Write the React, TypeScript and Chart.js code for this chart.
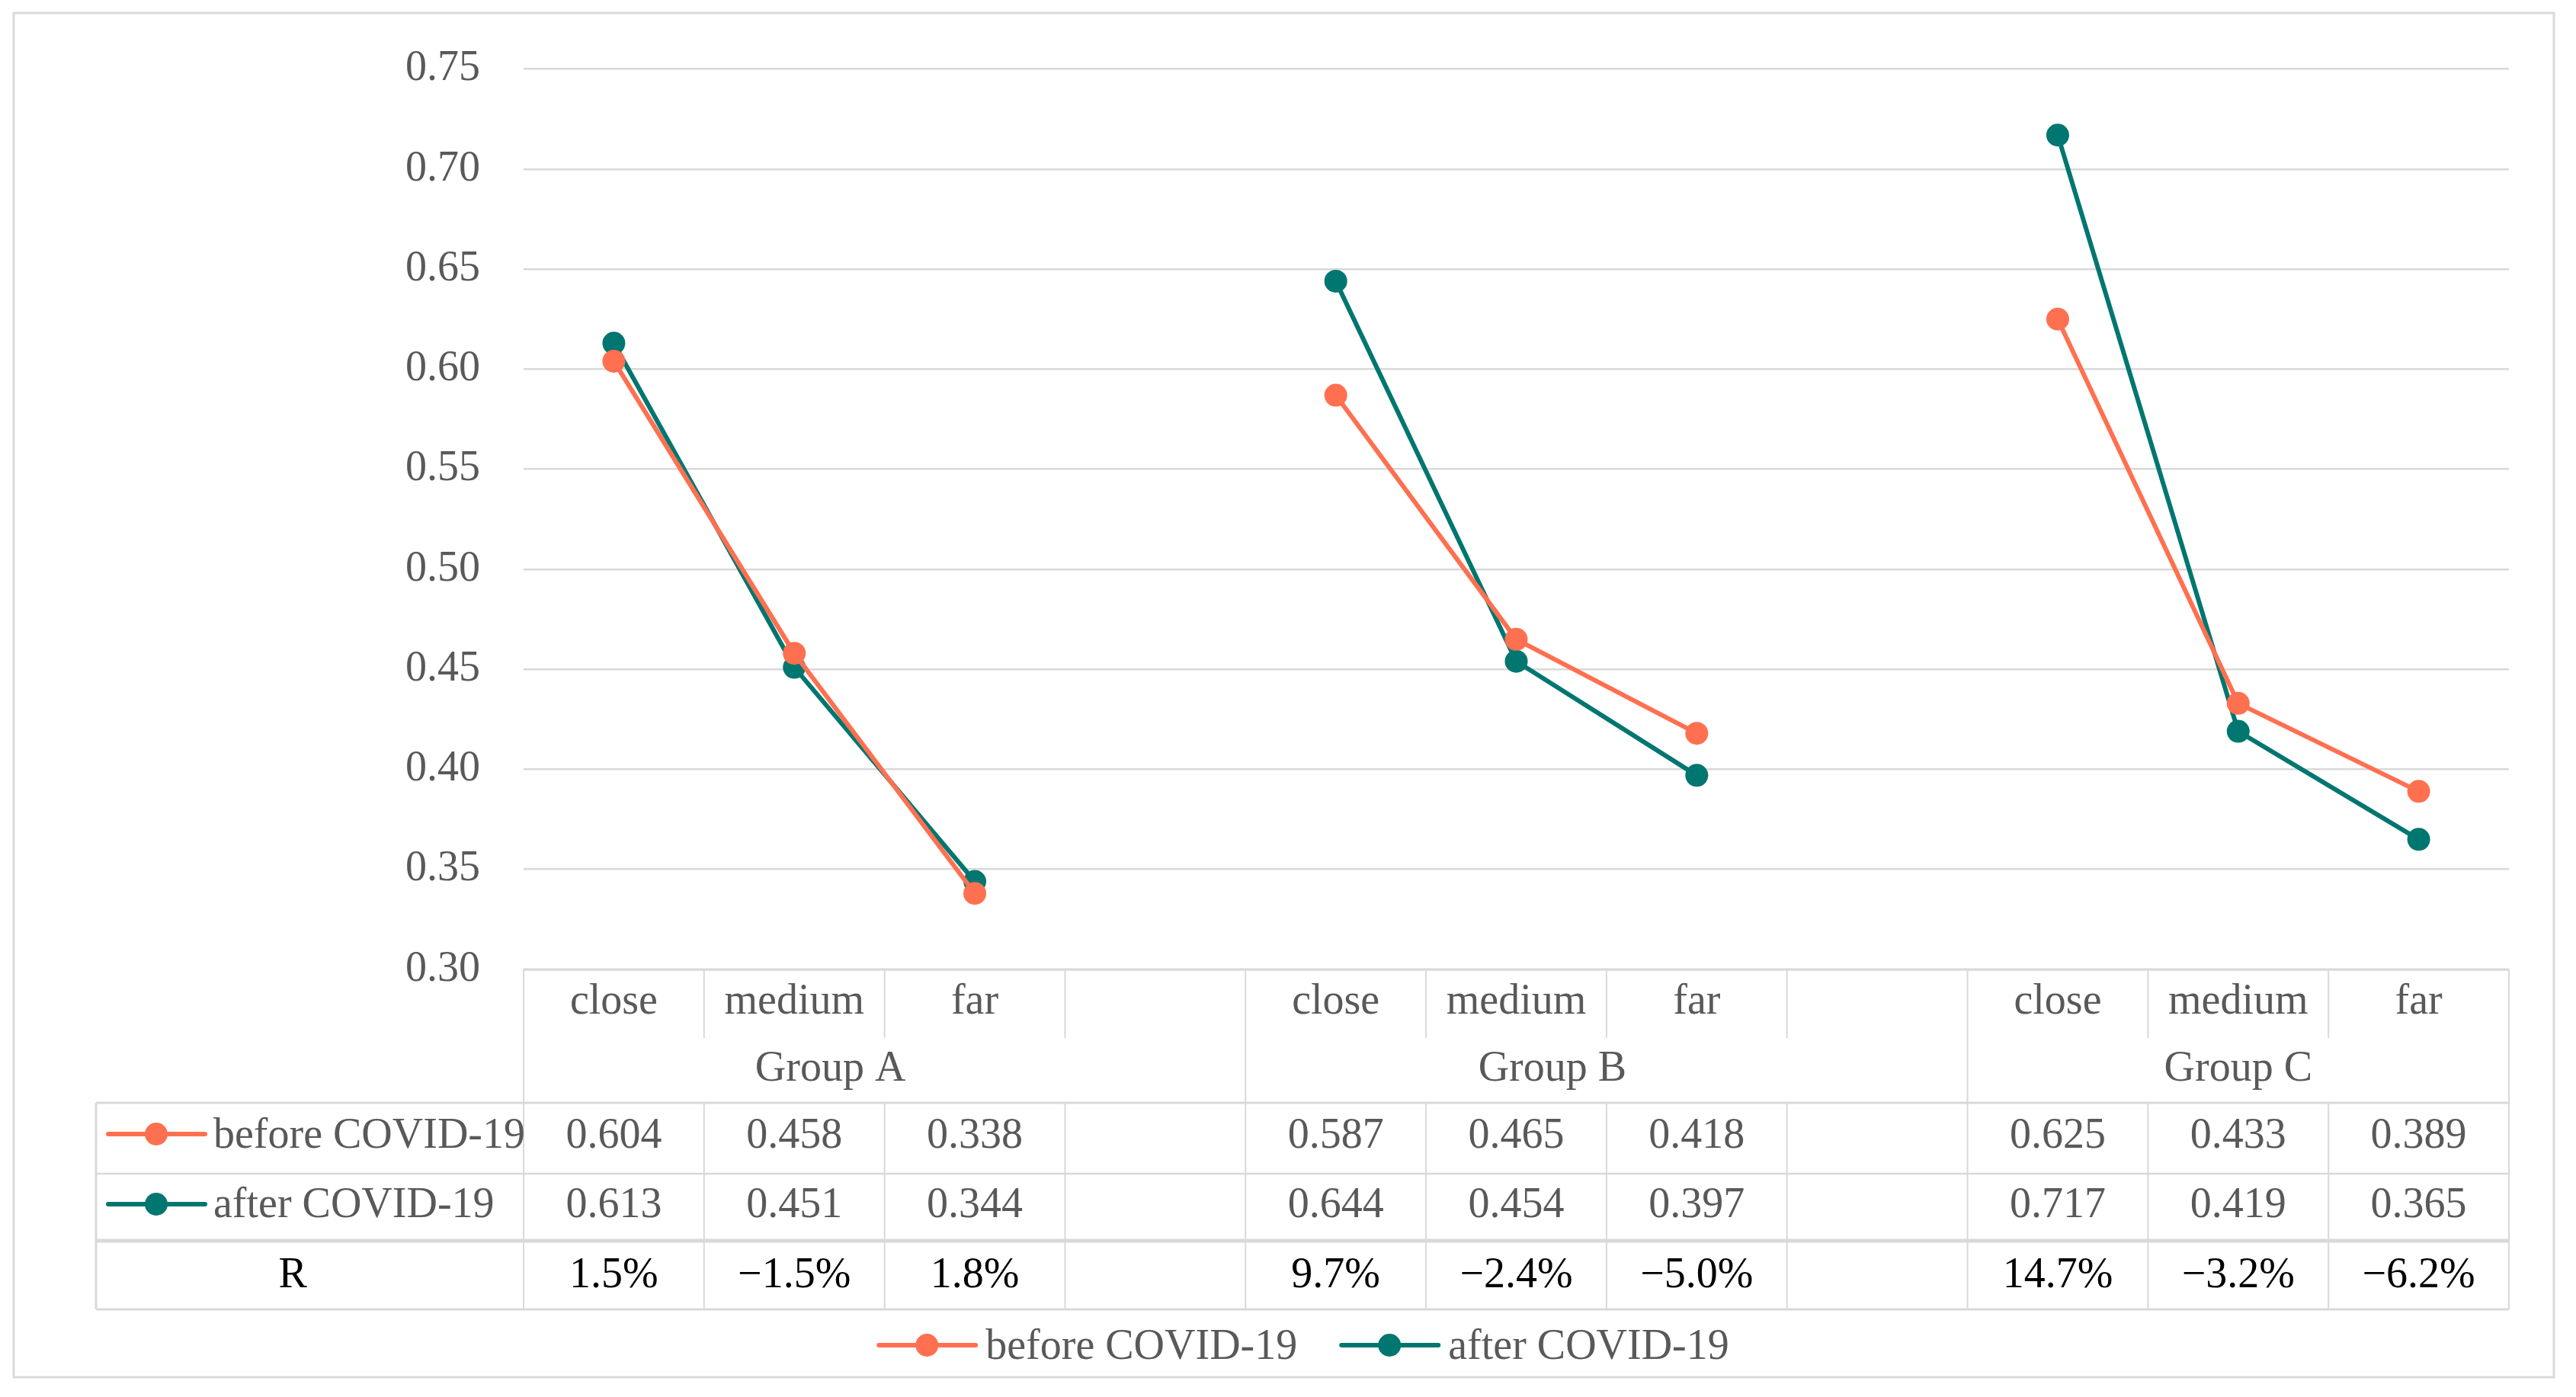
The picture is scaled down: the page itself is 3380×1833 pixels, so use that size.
import { useEffect, useRef } from "react";
import { Chart, registerables } from "chart.js";

Chart.register(...registerables);

// ---------- data ----------
const groups = ["Group A", "Group B", "Group C"];
const distances = ["close", "medium", "far"];
const beforeValues = [0.604, 0.458, 0.338, 0.587, 0.465, 0.418, 0.625, 0.433, 0.389];
const afterValues = [0.613, 0.451, 0.344, 0.644, 0.454, 0.397, 0.717, 0.419, 0.365];
const beforeLabels = ["0.604", "0.458", "0.338", "0.587", "0.465", "0.418", "0.625", "0.433", "0.389"];
const afterLabels = ["0.613", "0.451", "0.344", "0.644", "0.454", "0.397", "0.717", "0.419", "0.365"];
const rLabels = ["1.5%", "\u22121.5%", "1.8%", "9.7%", "\u22122.4%", "\u22125.0%", "14.7%", "\u22123.2%", "\u22126.2%"];
const seriesNames = ["before COVID-19", "after COVID-19"];
const rRowLabel = "R";
const yMin = 0.3;
const yMax = 0.75;
const yStep = 0.05;

// ---------- style ----------
const ORANGE = "#FF7050";
const TEAL = "#007670";
const GRID = "#D9D9D9";
const TEXT = "#595959";
const FAMILY = "'Liberation Serif', 'Times New Roman', serif";
const FS = 56;

// ---------- slot structure (groups separated by a blank slot) ----------
type Slot = { group: number; idx: number | null };
const slots: Slot[] = [];
groups.forEach((_, gi) => {
  distances.forEach((_d, di) => slots.push({ group: gi, idx: gi * distances.length + di }));
  if (gi < groups.length - 1) slots.push({ group: gi, idx: null });
});
const labels = slots.map((s) => (s.idx === null ? "" : distances[s.idx % distances.length]));
const beforeData = slots.map((s) => (s.idx === null ? null : beforeValues[s.idx]));
const afterData = slots.map((s) => (s.idx === null ? null : afterValues[s.idx]));

const tablePlugin = {
  id: "tablePlugin",
  afterDraw(chart: any) {
    const ctx: CanvasRenderingContext2D = chart.ctx;
    const xs = chart.scales.x;
    const area = chart.chartArea;
    const n = slots.length;
    const L = area.left;
    const R = area.right;
    const colW = (R - L) / n;
    const edge = (i: number) => L + i * colW;
    const headL = 126;

    const yTop = area.bottom;
    const catB = yTop + 90;
    const grpB = yTop + 175;
    const befB = yTop + 268;
    const aftB = yTop + 356;
    const rB = yTop + 446;

    ctx.save();
    const hline = (y: number, x1: number, x2: number, w: number) => {
      ctx.strokeStyle = GRID;
      ctx.lineWidth = w;
      ctx.beginPath();
      ctx.moveTo(x1, y);
      ctx.lineTo(x2, y);
      ctx.stroke();
    };
    const vline = (x: number, y1: number, y2: number, w: number) => {
      ctx.strokeStyle = GRID;
      ctx.lineWidth = w;
      ctx.beginPath();
      ctx.moveTo(x, y1);
      ctx.lineTo(x, y2);
      ctx.stroke();
    };

    // outer frame
    ctx.strokeStyle = GRID;
    ctx.lineWidth = 3;
    ctx.strokeRect(18, 17, 3333, 1790);

    // category row verticals
    for (let i = 0; i <= n; i++) vline(edge(i), yTop, catB, 2);
    // group row verticals
    const starts: number[] = [];
    slots.forEach((s, i) => {
      if (i === 0 || slots[i - 1].group !== s.group) starts.push(i);
    });
    starts.forEach((i) => vline(edge(i), catB, grpB, 2));
    vline(edge(n), catB, grpB, 2);
    // data rows verticals
    for (let i = 0; i <= n; i++) vline(edge(i), grpB, rB, 2);
    vline(headL, grpB, rB, 3);

    hline(yTop, L, R, 3);
    hline(grpB, headL, R, 3);
    hline(befB, headL, R, 2.5);
    hline(aftB, headL, R, 5);
    hline(rB, headL, R, 3);

    ctx.font = `${FS}px ${FAMILY}`;
    ctx.textBaseline = "alphabetic";
    ctx.textAlign = "center";

    // category labels + values
    slots.forEach((s, i) => {
      if (s.idx === null) return;
      const cx = xs.getPixelForValue(i);
      ctx.fillStyle = TEXT;
      ctx.fillText(labels[i], cx, yTop + 58);
      ctx.fillText(beforeLabels[s.idx], cx, yTop + 234);
      ctx.fillText(afterLabels[s.idx], cx, yTop + 325);
      ctx.fillStyle = "#000";
      ctx.fillText(rLabels[s.idx], cx, yTop + 417);
    });

    // group labels
    groups.forEach((g, gi) => {
      const left = edge(starts[gi]);
      const hasBlank = gi < groups.length - 1;
      const span = hasBlank ? 3.4 : 3;
      ctx.fillStyle = TEXT;
      ctx.fillText(g, left + (span * colW) / 2, yTop + 146);
    });

    // R row header
    ctx.fillStyle = "#000";
    ctx.fillText(rRowLabel, headL + (L - headL) * 0.46, yTop + 417);

    const marker = (x1: number, y: number, color: string) => {
      ctx.strokeStyle = color;
      ctx.lineWidth = 6;
      ctx.lineCap = "round";
      ctx.beginPath();
      ctx.moveTo(x1, y);
      ctx.lineTo(x1 + 127, y);
      ctx.stroke();
      ctx.lineCap = "butt";
      ctx.fillStyle = color;
      ctx.beginPath();
      ctx.arc(x1 + 63, y, 15, 0, Math.PI * 2);
      ctx.fill();
    };

    // series header legends in table
    ctx.textAlign = "left";
    marker(142, yTop + 216, ORANGE);
    ctx.fillStyle = TEXT;
    ctx.fillText(seriesNames[0], 280, yTop + 234);
    marker(142, yTop + 308, TEAL);
    ctx.fillStyle = TEXT;
    ctx.fillText(seriesNames[1], 280, yTop + 325);

    // bottom legend
    const w0 = ctx.measureText(seriesNames[0]).width;
    const w1 = ctx.measureText(seriesNames[1]).width;
    const itemGap = 58;
    const total = 127 + 13 + w0 + itemGap + 127 + 13 + w1;
    let lx = 1711 - total / 2;
    const ly = 1765;
    marker(lx, ly, ORANGE);
    ctx.fillStyle = TEXT;
    ctx.fillText(seriesNames[0], lx + 140, ly + 18);
    lx += 140 + w0 + itemGap;
    marker(lx, ly, TEAL);
    ctx.fillStyle = TEXT;
    ctx.fillText(seriesNames[1], lx + 140, ly + 18);

    ctx.restore();
  },
};

export default function App() {
  const ref = useRef<HTMLCanvasElement | null>(null);
  useEffect(() => {
    if (!ref.current) return;
    const chart = new Chart(ref.current, {
      type: "line",
      data: {
        labels,
        datasets: [
          {
            label: seriesNames[0],
            data: beforeData,
            borderColor: ORANGE,
            backgroundColor: ORANGE,
            pointBackgroundColor: ORANGE,
            pointBorderWidth: 0,
            pointRadius: 15,
            borderWidth: 6,
            spanGaps: false,
            tension: 0,
          },
          {
            label: seriesNames[1],
            data: afterData,
            borderColor: TEAL,
            backgroundColor: TEAL,
            pointBackgroundColor: TEAL,
            pointBorderWidth: 0,
            pointRadius: 15,
            borderWidth: 6,
            spanGaps: false,
            tension: 0,
          },
        ],
      },
      options: {
        animation: false,
        responsive: false,
        layout: { padding: { left: 0, top: 87, right: 88, bottom: 561 } },
        plugins: { legend: { display: false }, tooltip: { enabled: false } },
        scales: {
          x: { type: "category", offset: true, display: false },
          y: {
            min: yMin,
            max: yMax,
            afterFit: (scale: any) => {
              scale.width = 687;
            },
            border: { display: false },
            grid: { color: GRID, lineWidth: 2.5, drawTicks: false },
            ticks: {
              stepSize: yStep,
              padding: 57,
              color: TEXT,
              font: { family: FAMILY, size: FS },
              callback: (v: any) => Number(v).toFixed(2),
            },
          },
        },
      },
      plugins: [tablePlugin],
    });
    return () => chart.destroy();
  }, []);
  return (
    <div style={{ position: "fixed", left: 0, top: 0, width: 3380, height: 1833, background: "#fff" }}>
      <canvas ref={ref} width={3380} height={1833} style={{ width: 3380, height: 1833 }} />
    </div>
  );
}
